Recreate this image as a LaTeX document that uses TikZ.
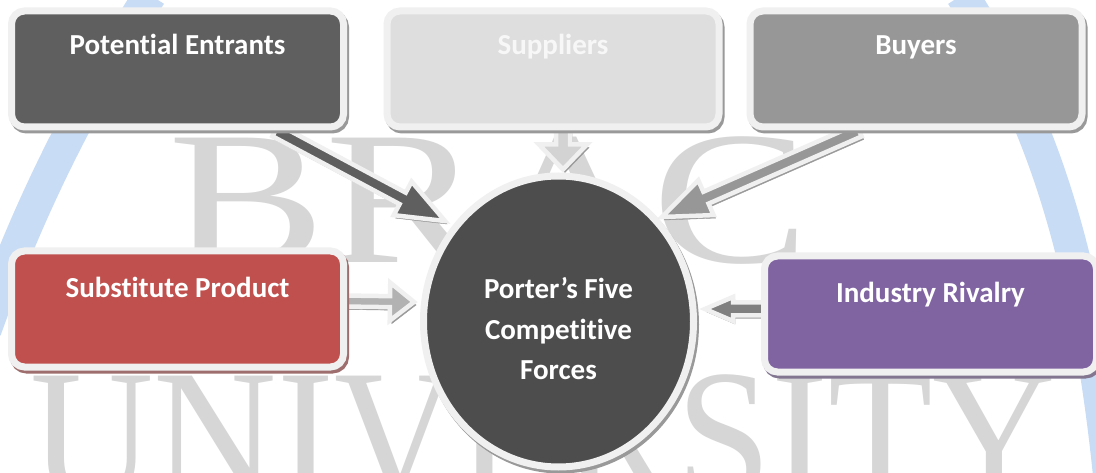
\documentclass[tikz,border=0pt]{standalone}
\usepackage{fontspec}
\usepackage{graphicx}
\setmainfont{Carlito}[Ligatures={NoCommon,NoRare,NoContextual}]
\newfontfamily\wmfont{Liberation Serif}
\usetikzlibrary{shapes.geometric,calc}
\pgfdeclarelayer{background}
\pgfdeclarelayer{arrowlayer}
\pgfsetlayers{background,arrowlayer,main}
\definecolor{edgecol}{HTML}{F0F0F0}
\definecolor{pefill}{HTML}{5F5F5F}
\definecolor{sufill}{HTML}{DEDEDE}
\definecolor{bufill}{HTML}{979797}
\definecolor{spfill}{HTML}{C0504D}
\definecolor{irfill}{HTML}{8064A2}
\definecolor{corefill}{HTML}{4D4D4D}
\definecolor{ringblue}{RGB}{200,220,246}
\definecolor{wmgray}{HTML}{D6D6D6}
\definecolor{sutext}{HTML}{F7F7F7}
\newcommand\pfboxfont{\fontsize{29pt}{35pt}\selectfont\bfseries}
\newcommand\pfcorefont{\fontsize{29pt}{40.5pt}\selectfont\bfseries}
\newcommand\blockarrow[6]{%
  \coordinate (ba-h) at ($(#2)!#5!(#1)$);
  \path[blockarrow, fill=#6]
    ($(#1)!#3!90:(#2)$) -- ($(ba-h)!#3!90:(#2)$) -- ($(ba-h)!#4!90:(#2)$) -- (#2)
    -- ($(ba-h)!#4!-90:(#2)$) -- ($(ba-h)!#3!-90:(#2)$) -- ($(#1)!#3!-90:(#2)$) -- cycle;
}
\tikzset{
  fbox/.style={rectangle, rounded corners=13pt, draw=edgecol, line width=7pt,
    minimum width=332pt, minimum height=116pt, inner sep=0pt, text height=20pt,
    font=\pfboxfont, text=white,
    preaction={draw=#1, fill=#1, transform canvas={shift={(2pt,-3pt)}}}},
  blockarrow/.style={draw=edgecol, line width=4.5pt, line join=miter, miter limit=4,
    preaction={draw=black!40, fill=black!40, transform canvas={shift={(2pt,-3pt)}}}},
  wmtext/.style={font=\wmfont\fontsize{190pt}{190pt}\selectfont, text=wmgray, inner sep=0pt}
}
\begin{document}
\begin{tikzpicture}[x=1pt,y=-1pt]
\useasboundingbox (0,0) rectangle (1096,473);
\begin{pgfonlayer}{background}
  \fill[white] (0,0) rectangle (1096,473);
  \draw[ringblue, line width=33pt] (150,-5) .. controls (90,90) and (35,190) .. (-15,330);
  \draw[ringblue, line width=33pt] (962,-5) .. controls (1030,100) and (1085,230) .. (1110,480);
  \node[wmtext, anchor=base west] (wmb) at (168,263) {\scalebox{1.24}[1]{BRAC}};
  \node[wmtext, anchor=base west] (wmu) at (30,500) {\scalebox{0.9}[1]{UNIVERSITY}};
\end{pgfonlayer}

\node[fbox=black!40, fill=pefill, text depth=48pt] (pe) at (177.5,69) {Potential Entrants};
\node[fbox=black!40, fill=sufill, text=sutext, text depth=48pt] (su) at (553,69) {Suppliers};
\node[fbox=black!40, fill=bufill, text depth=48pt] (bu) at (916,69) {Buyers};
\node[fbox=spfill!60!black!70, fill=spfill, text depth=42pt] (sp) at (177.5,309) {Substitute Product};
\node[fbox=irfill!60!black!70, fill=irfill, text depth=43.5pt] (ir) at (930.5,314) {Industry Rivalry};
\node[ellipse, draw=edgecol, line width=7pt, fill=corefill, minimum width=270pt,
  minimum height=291pt, inner sep=0pt, align=center, text=white, font=\pfcorefont,
  preaction={draw=black!40, fill=black!40, transform canvas={shift={(2pt,-3pt)}}}]
  (core) at (558.5,321.5) {\rule{0pt}{36pt}Porter’s Five\\Competitive\\Forces};

\begin{pgfonlayer}{arrowlayer}
  \coordinate (pe-out) at ($(pe.south)+(98,0)$);
  \coordinate (su-out) at ($(su.south)+(10,0)$);
  \coordinate (bu-out) at ($(bu.south)+(-57,0)$);
  \coordinate (sp-out) at ($(sp.east)+(-4,-8)$);
  \coordinate (ir-out) at ($(ir.west)+(3,-5)$);
  \coordinate (pe-in) at ($(core)+(-113.5,-100.5)$);
  \coordinate (su-in) at ($(core)+(4.5,-152)$);
  \coordinate (bu-in) at ($(core)+(103.5,-104.5)$);
  \coordinate (sp-in) at ($(core)+(-144.5,-19.5)$);
  \coordinate (ir-in) at ($(core)+(146.5,-12.5)$);
  \blockarrow{pe-out}{pe-in}{6.5pt}{19pt}{48pt}{pefill}
  \blockarrow{su-out}{su-in}{7pt}{24pt}{25pt}{sufill!95!black}
  \blockarrow{bu-out}{bu-in}{6.5pt}{19pt}{48pt}{bufill}
  \blockarrow{sp-out}{sp-in}{5.5pt}{19pt}{24pt}{black!30}
  \blockarrow{ir-out}{ir-in}{6.5pt}{12pt}{28pt}{black!50}
\end{pgfonlayer}
\end{tikzpicture}
\end{document}
